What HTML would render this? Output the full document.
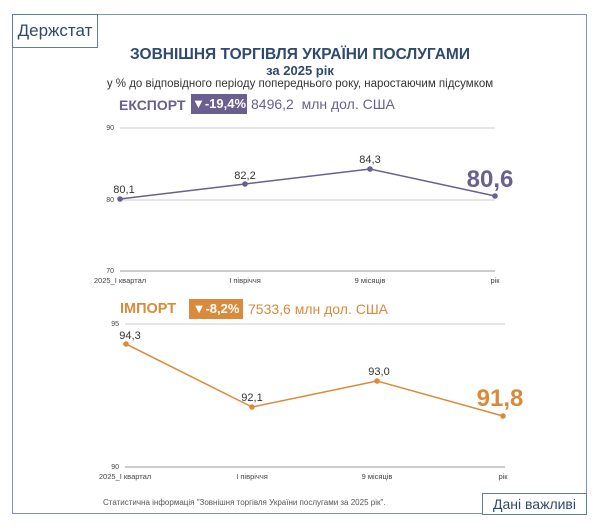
<!DOCTYPE html>
<html><head><meta charset="utf-8"><style>
body{margin:0;width:600px;height:530px;background:#fff;font-family:"Liberation Sans",sans-serif;position:relative;overflow:hidden}
.a{position:absolute;white-space:nowrap}
</style></head><body>
<div class="a" style="left:12px;top:14px;width:573px;height:498px;border:1.5px solid #7f97b3"></div>
<div class="a" style="left:12px;top:14px;width:84px;height:32px;border:1.5px solid #5f7d9e;background:#fff;font-size:17px;color:#2c4a6e;line-height:32px;text-align:center">Держстат</div>
<div class="a" style="left:0;width:600px;top:46px;text-align:center;font-size:15.5px;font-weight:bold;color:#2f4a6e">ЗОВНІШНЯ ТОРГІВЛЯ УКРАЇНИ ПОСЛУГАМИ</div>
<div class="a" style="left:0;width:600px;top:63px;text-align:center;font-size:13px;font-weight:bold;color:#2f4a6e">за 2025 рік</div>
<div class="a" style="left:0;width:600px;top:78px;text-align:center;font-size:11.5px;color:#333">у % до відповідного періоду попереднього року, наростаючим підсумком</div>
<div class="a" style="left:119px;top:97px;font-size:14px;font-weight:bold;color:#6a5f8e">ЕКСПОРТ</div>
<div class="a" style="left:191px;top:94px;width:56px;height:20px;background:#6a5f8e;color:#fff;font-size:13px;font-weight:bold;line-height:20px;text-align:center">▼-19,4%</div>
<div class="a" style="left:251px;top:96px;font-size:14px;color:#6a5f8e">8496,2&nbsp; млн дол. США</div>
<div class="a" style="left:120px;top:301px;font-size:14.5px;font-weight:bold;color:#d98a3a">ІМПОРТ</div>
<div class="a" style="left:189px;top:299px;width:54px;height:20px;background:#d98a3a;color:#fff;font-size:13px;font-weight:bold;line-height:20px;text-align:center">▼-8,2%</div>
<div class="a" style="left:248px;top:301px;font-size:14px;color:#d98a3a">7533,6 млн дол. США</div>
<svg class="a" style="left:0;top:0" width="600" height="530" font-family="Liberation Sans,sans-serif">
<g stroke="#ccc" stroke-width="1"><line x1="120" y1="128" x2="495" y2="128"/><line x1="120" y1="200" x2="495" y2="200"/><line x1="125" y1="324" x2="505" y2="324"/></g>
<g stroke="#999" stroke-width="1"><line x1="120" y1="271" x2="495" y2="271"/><line x1="125" y1="467" x2="505" y2="467"/></g>
<g font-size="7" fill="#444" text-anchor="end"><text x="114" y="130">90</text><text x="114" y="202">80</text><text x="114" y="273">70</text><text x="119" y="326">95</text><text x="119" y="469">90</text></g>
<g font-size="7.5" fill="#444" text-anchor="middle"><text x="120" y="283">2025_І квартал</text><text x="245" y="283">І півріччя</text><text x="370" y="283">9 місяців</text><text x="495" y="283">рік</text>
<text x="125" y="479">2025_І квартал</text><text x="252" y="479">І півріччя</text><text x="377" y="479">9 місяців</text><text x="503" y="479">рік</text></g>
<polyline points="120,199 245,184 370,169 495,196" fill="none" stroke="#6a5f8e" stroke-width="1.5"/>
<g fill="#6a5f8e"><circle cx="120" cy="199" r="2.8"/><circle cx="245" cy="184" r="2.8"/><circle cx="370" cy="169" r="2.8"/><circle cx="495" cy="196" r="2.8"/></g>
<g font-size="11" fill="#333" text-anchor="middle"><text x="124" y="193">80,1</text><text x="245" y="179">82,2</text><text x="370" y="163">84,3</text></g>
<text x="490" y="187" font-size="24" font-weight="bold" fill="#6a5f8e" text-anchor="middle">80,6</text>
<polyline points="126,344 252,407 377,381 503,416" fill="none" stroke="#d98a3a" stroke-width="1.5"/>
<g fill="#d98a3a"><circle cx="126" cy="344" r="2.8"/><circle cx="252" cy="407" r="2.8"/><circle cx="377" cy="381" r="2.8"/><circle cx="503" cy="416" r="2.8"/></g>
<g font-size="11" fill="#333" text-anchor="middle"><text x="130" y="339">94,3</text><text x="252" y="401">92,1</text><text x="379" y="375">93,0</text></g>
<text x="500" y="406" font-size="24" font-weight="bold" fill="#d98a3a" text-anchor="middle">91,8</text>
<text x="103" y="505" font-size="8" fill="#555">Статистична інформація "Зовнішня торгівля України послугами за 2025 рік".</text>
</svg>
<div class="a" style="left:482px;top:493px;width:103px;height:20px;border:1.5px solid #5f7d9e;background:#fff;font-size:14px;color:#2c4a6e;line-height:20px;text-align:center">Дані важливі</div>
</body></html>
